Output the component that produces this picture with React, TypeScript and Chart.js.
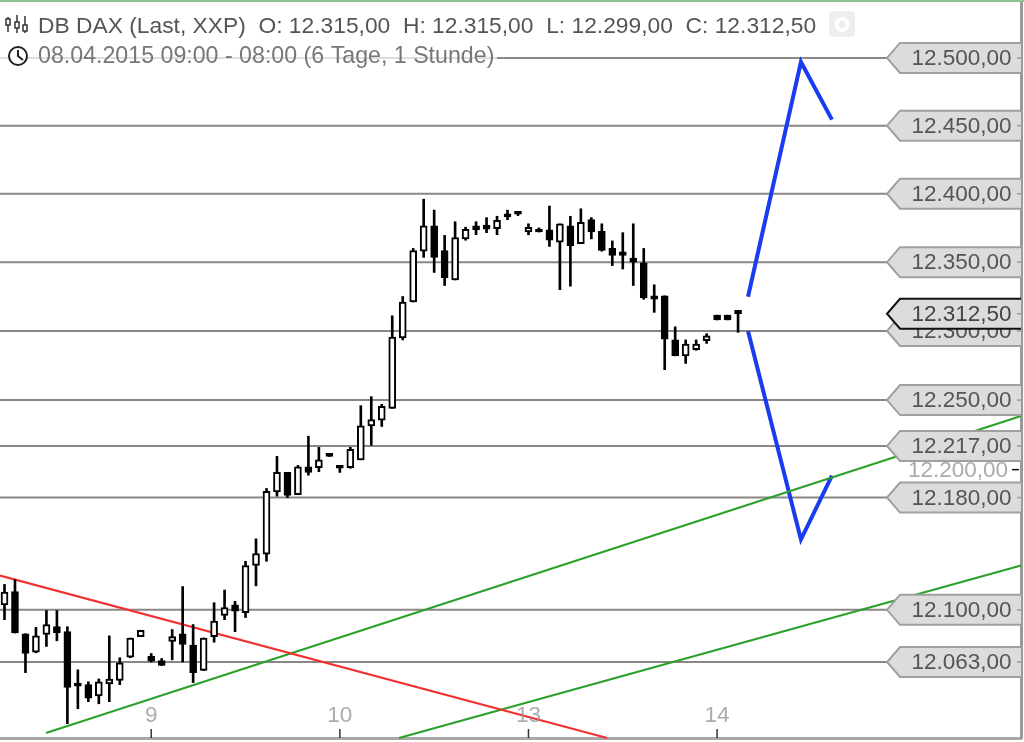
import React, { useEffect, useRef } from "react";
import { Chart, registerables, LinearScale } from "chart.js";

Chart.register(...registerables);

// Candle positions are trading hours counted from the first visible candle.
const opens = [12103.5,12113,12083,12070,12082.5,12088,12084.5,12046.5,12047,12039,12047.5,12050,12066.5,12081,12067,12064,12077.5,12083,12075,12057,12081,12096,12103.5,12098,12131.5,12139.5,12184,12198,12182,12202,12201.5,12211.5,12203,12201.5,12207,12231.5,12235.5,12244,12295,12321,12358,12376.5,12358.5,12337,12367,12376.5,12377,12374.5,12384,12386.5,12372,12373,12373.5,12364.5,12376.5,12363.5,12381,12372.5,12360,12357.5,12353,12349.5,12325.5,12325.5,12293.5,12282,12286.5,12293,12311.5,12311.5,12315];
const highs = [12118,12121.5,12083,12087.5,12099.5,12099.5,12088,12057.5,12049,12051,12081.5,12066,12080,12085.5,12069,12065.5,12086,12116.5,12089.5,12080,12105,12114,12106,12134.5,12150.5,12186.5,12209.5,12198,12203,12224,12216,12211.5,12203,12216,12246,12252.5,12247,12311,12325,12360,12396,12388,12369.5,12379.5,12375.5,12379.5,12382.5,12383.5,12388,12386.5,12378,12375,12391,12378,12383.5,12389,12382.5,12378,12365.5,12371.5,12378,12360,12333.5,12325.5,12303,12293.5,12293.5,12298,12311.5,12311.5,12315];
const lows = [12093,12083.5,12055.5,12069.5,12074,12078,12019.5,12030,12035,12033.5,12035,12047,12066,12081,12063,12060.5,12064.5,12063,12048.5,12057,12077,12093,12084.5,12094.5,12117,12134.5,12181,12180,12182,12196,12198.5,12209.5,12198,12201,12207,12217.5,12231,12244,12293.5,12321,12353.5,12342.5,12333,12337,12366,12370,12371.5,12370,12381,12384,12370,12372,12361.5,12330,12332.5,12363.5,12367,12358,12347.5,12345,12333,12323,12313.5,12272,12282,12276.5,12286,12291,12308,12308,12299];
const closes = [12112.5,12083.5,12069,12081.5,12089.5,12083.5,12045,12046,12037.5,12049,12051,12062.5,12080,12085.5,12063.5,12060.5,12081,12075.5,12055.5,12080,12092,12101.5,12099,12131.5,12140,12184.5,12198,12181.5,12202,12198,12207,12209.5,12201,12214.5,12231.5,12236,12245.5,12295.5,12321,12358.5,12376.5,12353.5,12338.5,12368,12374,12373.5,12374,12380.5,12383,12385,12375.5,12372,12366,12378,12362,12379,12372,12358.5,12355,12355,12350,12324,12323,12294,12282,12290.5,12290.5,12296.5,12308,12308,12312.5];

const dayLabels = ["9", "10", "13", "14"];
const dayPositions = [14, 32, 50, 68];
const levels = [12500, 12450, 12400, 12350, 12300, 12250, 12217, 12180, 12100, 12063];
const lastPrice = 12312.5;
const roundLevel = 12200;

const redLine = [{ x: -0.43, y: 12124.3 }, { x: 57.5, y: 12009.4 }];
const greenLineA = [{ x: 3.96, y: 12012.9 }, { x: 97, y: 12238.5 }];
const greenLineB = [{ x: 37.64, y: 12009.4 }, { x: 97, y: 12131.5 }];
const blueUp = [{ x: 70.95, y: 12324.8 }, { x: 76, y: 12497 }, { x: 78.96, y: 12454.4 }];
const blueDown = [{ x: 70.95, y: 12300 }, { x: 76, y: 12150 }, { x: 78.96, y: 12195.7 }];

const headerLine1 = "DB DAX (Last, XXP)  O: 12.315,00  H: 12.315,00  L: 12.299,00  C: 12.312,50";
const headerLine2 = "08.04.2015 09:00 - 08:00 (6 Tage, 1 Stunde)";

const X_MIN = -0.43, X_MAX = 97, LEVEL_END = 84.3;
const Y_MIN = 12009.4, Y_MAX = 12543;
const CURVE = 0.028; // the source picture's price axis is slightly non-linear

class CurvedPriceScale extends LinearScale {
  static id = "curvedPrice";
  static defaults = LinearScale.defaults;
  getPixelForValue(value: number) {
    if (value === null || value === undefined) return NaN;
    const p = (Y_MAX - value) / (Y_MAX - Y_MIN);
    return this.getPixelForDecimal(1 - (p * (1 - CURVE) + CURVE * p * p));
  }
}
Chart.register(CurvedPriceScale);

const fmt = (v: number) => {
  const s = v.toFixed(2).replace(".", ",");
  return s.slice(0, 2) + "." + s.slice(2);
};

const FONT = '"Liberation Sans", Arial, sans-serif';

const overlay = {
  id: "overlay",
  afterDatasetsDraw(chart: any) {
    const { ctx, scales, chartArea } = chart;
    const y = scales.y;
    const right = chartArea.right;
    ctx.save();

    // x-axis labels, drawn under the trend lines' end of the stack, and tick marks
    ctx.font = `22.5px ${FONT}`;
    ctx.textAlign = "center";
    ctx.textBaseline = "middle";
    ctx.fillStyle = "rgba(150,150,150,0.8)";
    dayPositions.forEach((pos, i) => {
      ctx.fillText(dayLabels[i], scales.x.getPixelForValue(pos), 715.5);
    });
    ctx.strokeStyle = "#333";
    ctx.lineWidth = 1.5;
    dayPositions.forEach((pos) => {
      const px = scales.x.getPixelForValue(pos);
      ctx.beginPath();
      ctx.moveTo(px, chartArea.bottom - 9);
      ctx.lineTo(px, chartArea.bottom);
      ctx.stroke();
    });

    // header halo and text
    ctx.fillStyle = "rgba(255,255,255,0.72)";
    ctx.fillRect(0, 44, 497, 22);
    ctx.textBaseline = "alphabetic";
    ctx.textAlign = "left";
    ctx.font = `22.8px ${FONT}`;
    ctx.fillStyle = "#555";
    ctx.fillText(headerLine1, 38, 33);
    ctx.font = `23.2px ${FONT}`;
    ctx.fillStyle = "#777";
    ctx.fillText(headerLine2, 38, 63);

    // candle icon
    ctx.strokeStyle = "#333";
    ctx.lineWidth = 1.5;
    [[8, 17, 32, 19, 25], [17, 15, 33, 22, 28], [25, 16, 33, 25, 31]].forEach(([cx, t, b, bt, bb]) => {
      ctx.beginPath();
      ctx.moveTo(cx, t);
      ctx.lineTo(cx, b);
      ctx.stroke();
      ctx.fillStyle = "#fff";
      ctx.fillRect(cx - 2, bt, 4, bb - bt);
      ctx.strokeRect(cx - 2, bt, 4, bb - bt);
    });
    // clock icon
    ctx.strokeStyle = "#222";
    ctx.lineWidth = 2;
    ctx.fillStyle = "#fff";
    ctx.beginPath();
    ctx.arc(18, 56, 9, 0, Math.PI * 2);
    ctx.fill();
    ctx.stroke();
    ctx.beginPath();
    ctx.moveTo(18, 50);
    ctx.lineTo(18, 56);
    ctx.lineTo(23, 60);
    ctx.stroke();
    // inactive button
    ctx.fillStyle = "#eeeeee";
    ctx.beginPath();
    ctx.roundRect(829, 11, 26, 26, 4);
    ctx.fill();
    ctx.strokeStyle = "#fff";
    ctx.lineWidth = 4;
    ctx.beginPath();
    ctx.arc(842, 24.5, 5.5, 0, Math.PI * 2);
    ctx.stroke();

    // round-number label with tick
    const ry = y.getPixelForValue(roundLevel);
    ctx.font = `22.5px ${FONT}`;
    ctx.textBaseline = "middle";
    ctx.fillStyle = "#aaa";
    ctx.fillText(fmt(roundLevel), 908, ry + 1);
    ctx.strokeStyle = "#111";
    ctx.lineWidth = 1.5;
    ctx.beginPath();
    ctx.moveTo(1012, ry);
    ctx.lineTo(1019, ry);
    ctx.stroke();

    // price tags
    const tag = (v: number, border: string, color: string) => {
      const py = y.getPixelForValue(v);
      ctx.beginPath();
      ctx.moveTo(right, py - 15);
      ctx.lineTo(900, py - 15);
      ctx.lineTo(887, py);
      ctx.lineTo(900, py + 15);
      ctx.lineTo(right, py + 15);
      ctx.fillStyle = "#dcdcdc";
      ctx.fill();
      ctx.strokeStyle = border;
      ctx.lineWidth = 2;
      ctx.stroke();
      ctx.fillStyle = color;
      ctx.font = `22.5px ${FONT}`;
      ctx.textBaseline = "middle";
      ctx.fillText(fmt(v), 911.5, py + 1);
      ctx.strokeStyle = "#999";
      ctx.lineWidth = 1.5;
      ctx.beginPath();
      ctx.moveTo(1017, py);
      ctx.lineTo(right, py);
      ctx.stroke();
    };
    [...levels].sort((a, b) => a - b).forEach((v) => tag(v, "#a0a0a0", "#555"));
    tag(lastPrice, "#111", "#444");

    // top rule
    ctx.fillStyle = "#8cc48c";
    ctx.fillRect(0, 0, chart.width, 2);
    ctx.restore();
  },
};

export default function App() {
  const ref = useRef<HTMLCanvasElement>(null);
  useEffect(() => {
    const n = opens.length;
    const idx = Array.from({ length: n }, (_, i) => i);
    const wicks = idx.map((i) => ({ x: i, y: [lows[i], highs[i]] }));
    const bodies = idx.map((i) => ({ x: i, y: [opens[i], closes[i]] }));
    const line = (data: any[], color: string, width: number) => ({
      type: "line" as const,
      data,
      borderColor: color,
      borderWidth: width,
      pointRadius: 0,
      tension: 0,
      order: 3,
      clip: false,
    });
    const chart = new Chart(ref.current!, {
      type: "bar",
      data: {
        datasets: [
          ...levels.map((v) => ({
            ...line([{ x: X_MIN, y: v }, { x: LEVEL_END, y: v }], "#8b8786", 2),
            order: 5,
          })),
          line(redLine, "#f23030", 2.2),
          line(greenLineA, "#2ba02b", 2.2),
          line(greenLineB, "#2ba02b", 2.2),
          line(blueUp, "#1a3cf0", 4),
          line(blueDown, "#1a3cf0", 4),
          {
            type: "bar" as const,
            data: wicks,
            backgroundColor: "#000",
            barThickness: 2,
            grouped: false,
            order: 2,
          },
          {
            type: "bar" as const,
            data: bodies,
            backgroundColor: idx.map((i) => (closes[i] >= opens[i] ? "#fff" : "#000")),
            borderColor: "#000",
            borderWidth: 2,
            borderSkipped: false,
            barThickness: 7,
            minBarLength: 3,
            grouped: false,
            order: 1,
          },
        ] as any,
      },
      options: {
        responsive: false,
        animation: false,
        layout: { padding: 0 },
        plugins: { legend: { display: false }, tooltip: { enabled: false } },
        scales: {
          x: {
            type: "linear",
            offset: false,
            min: X_MIN,
            max: X_MAX,
            afterFit: (s: any) => {
              s.height = 4;
            },
            ticks: { display: false },
            grid: { display: false, drawTicks: false },
            border: { display: true, color: "#a8a8a8", width: 3 },
          },
          y: {
            type: "curvedPrice",
            position: "right",
            min: Y_MIN,
            max: Y_MAX,
            afterFit: (s: any) => {
              s.width = 3;
            },
            ticks: { display: false },
            grid: { display: false, drawTicks: false },
            border: { display: true, color: "#999", width: 3 },
          },
        } as any,
      },
      plugins: [overlay],
    });
    return () => chart.destroy();
  }, []);
  return (
    <div style={{ position: "absolute", left: 0, top: 0, width: 1024, height: 742, background: "#fff" }}>
      <canvas ref={ref} width={1024} height={742} style={{ display: "block" }} />
    </div>
  );
}
